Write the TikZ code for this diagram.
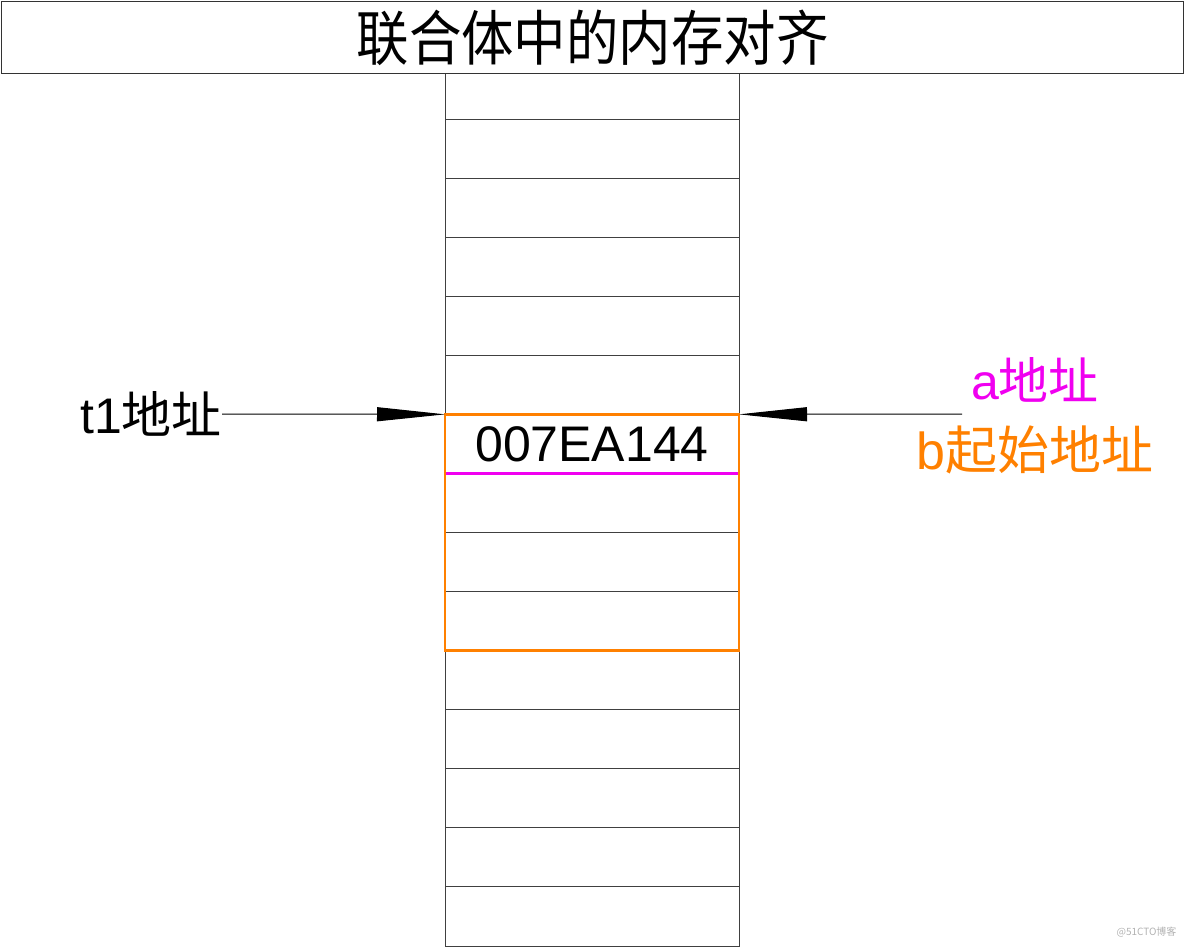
\documentclass[tikz,border=0pt]{standalone}
\usepackage{fontspec}
\setmainfont{Liberation Sans}
\newfontfamily\cjk{Noto Sans CJK SC}
\usetikzlibrary{arrows.meta}
\definecolor{ornge}{RGB}{255,128,0}
\definecolor{mgnta}{RGB}{240,0,240}
\begin{document}
\begin{tikzpicture}[x=1pt,y=-1pt,
  cell/.style={draw=black!75, line width=0.9pt, minimum width=294pt, minimum height=59.07pt, inner sep=0pt, outer sep=0pt, anchor=north west},
  lbl/.style={inner sep=0pt, font=\fontsize{50}{54}\selectfont},
  ptr/.style={draw=black, line width=1pt, -{Triangle[length=68pt,width=14pt,fill=black]}}]
\useasboundingbox (0,0) rectangle (1184,947);
% column
\node[cell, minimum height=46pt] (ctop) at (445,73) {};
\foreach \i in {0,...,13}{
  \node[cell] (c\i) at (445,{119+59.07*\i}) {};
}
% title
\node[draw=black!80, line width=1.3pt, fill=white, minimum width=1182pt, minimum height=72pt, inner sep=0pt, anchor=north west] (title) at (1,1)
  {\scalebox{0.92}[1.05]{\cjk\fontsize{57}{60}\selectfont 联合体中的内存对齐}};
% highlighted union
\draw[mgnta, line width=2.8pt] (c5.south west) -- (c5.south east);
\draw[ornge, line width=2.8pt] (c5.north west) rectangle (c8.south east);
\node[lbl] (val) at (c5.center) {007EA144};
% labels
\node[lbl, anchor=east] (t1) at (222,414) {t1{\cjk 地址}};
\node[lbl, text=mgnta] (a) at (1035,380) {a{\cjk 地址}};
\node[lbl, text=ornge, font=\fontsize{52}{56}\selectfont] (b) at (1035,450) {b{\cjk 起始地址}};
\coordinate (rs) at (962,414);
% arrows
\draw[ptr] (t1.east) -- (c5.north west);
\draw[ptr] (rs) -- (c5.north east);
% watermark
\node[text=black!30, font=\cjk\fontsize{10}{12}\selectfont, anchor=east] (wm) at (1180,932) {@51CTO博客};
\end{tikzpicture}
\end{document}
